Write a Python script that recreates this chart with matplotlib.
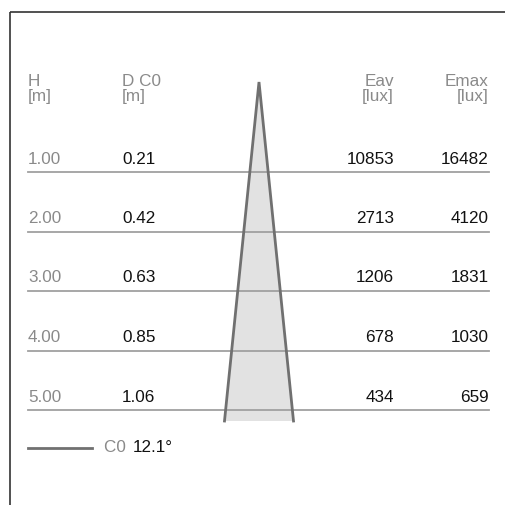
import matplotlib
matplotlib.use("Agg")
import matplotlib.pyplot as plt
from matplotlib.patches import Polygon

# ---- data ----
heights = [1.00, 2.00, 3.00, 4.00, 5.00]          # H [m]
diam_c0 = [0.21, 0.42, 0.63, 0.85, 1.06]          # D C0 [m]
eav = [10853, 2713, 1206, 678, 434]               # Eav [lux]
emax = [16482, 4120, 1831, 1030, 659]             # Emax [lux]
beam_label = "C0"
beam_angle = 12.1
headers = [("H", "[m]"), ("D C0", "[m]"), ("Eav", "[lux]"), ("Emax", "[lux]")]

plt.rcParams['font.family'] = ['Liberation Sans', 'DejaVu Sans']

W = H_ = 505
fig = plt.figure(figsize=(W / 100, H_ / 100), dpi=100)
ax = fig.add_axes([0, 0, 1, 1])
ax.set_xlim(0, W)
ax.set_ylim(H_, 0)
ax.axis("off")

fs = 12.3
grey_txt = "#8a8a8a"
line_grey = "#a0a0a0"

# frame (top + left)
ax.plot([9.5, W], [11.5, 11.5], color="#333333", lw=1.2, solid_capstyle="butt")
ax.plot([9.5, 9.5], [11.5, H_], color="#333333", lw=1.2, solid_capstyle="butt")

# headers
x_h, x_d, x_eav, x_emax = 28, 122, 394, 489
ax.text(x_h, 81, headers[0][0], color=grey_txt, fontsize=fs, va="center", ha="left")
ax.text(x_h, 96, headers[0][1], color=grey_txt, fontsize=fs, va="center", ha="left")
ax.text(x_d, 81, headers[1][0], color=grey_txt, fontsize=fs, va="center", ha="left")
ax.text(x_d, 96, headers[1][1], color=grey_txt, fontsize=fs, va="center", ha="left")
ax.text(x_eav, 81, headers[2][0], color=grey_txt, fontsize=fs, va="center", ha="right")
ax.text(x_eav, 96, headers[2][1], color=grey_txt, fontsize=fs, va="center", ha="right")
ax.text(x_emax, 81, headers[3][0], color=grey_txt, fontsize=fs, va="center", ha="right")
ax.text(x_emax, 96, headers[3][1], color=grey_txt, fontsize=fs, va="center", ha="right")

# cone
apex_x, apex_y = 259, 82
base_y = 421
half_w = 34.5
cone = Polygon([[apex_x, apex_y], [apex_x - half_w, base_y], [apex_x + half_w, base_y]],
               closed=True, facecolor="#e2e2e2", edgecolor="none", zorder=1)
ax.add_patch(cone)

# rows
y0, dy = 172, 59.5
for i, (h, d, ea, em) in enumerate(zip(heights, diam_c0, eav, emax)):
    yl = y0 + i * dy
    yt = yl - 13
    ax.plot([28, 489], [yl, yl], color=line_grey, lw=1.3, zorder=2)
    ax.text(x_h, yt, f"{h:.2f}", color=grey_txt, fontsize=fs, va="center", ha="left")
    ax.text(x_d, yt, f"{d:.2f}", color="#111111", fontsize=fs, va="center", ha="left")
    ax.text(x_eav, yt, f"{ea}", color="#111111", fontsize=fs, va="center", ha="right")
    ax.text(x_emax, yt, f"{em}", color="#111111", fontsize=fs, va="center", ha="right")

# cone edges on top of lines
ax.plot([apex_x - half_w, apex_x, apex_x + half_w], [base_y, apex_y, base_y],
        color="#707070", lw=2.0, zorder=3, solid_joinstyle="miter")

# legend
ax.plot([28, 92], [448, 448], color="#707070", lw=2.0)
t = ax.text(104, 447, beam_label + " ", color=grey_txt, fontsize=fs, va="center", ha="left")
ax.text(133, 447, f"{beam_angle}°", color="#111111", fontsize=fs, va="center", ha="left")

fig.savefig("out.png", dpi=100)
